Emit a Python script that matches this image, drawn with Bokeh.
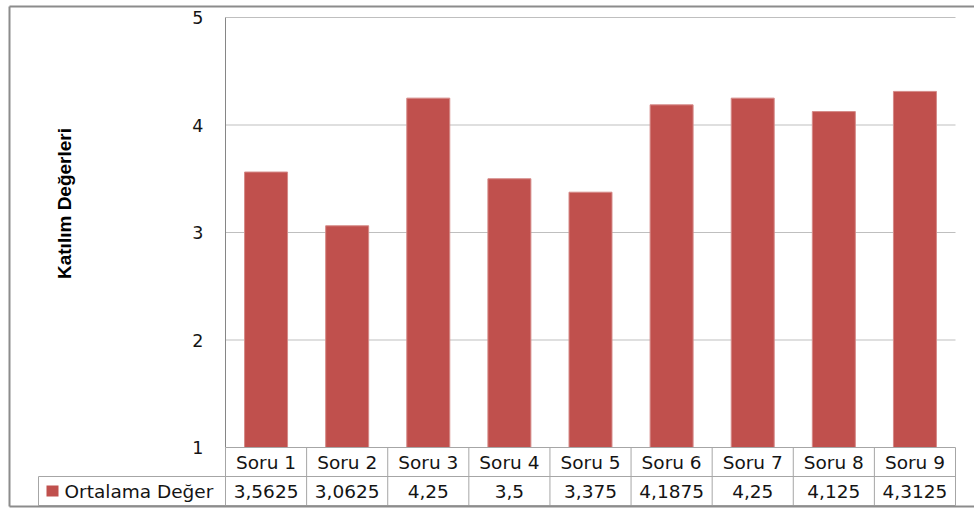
import numpy as np
from bokeh.plotting import figure
from bokeh.models import Range1d, ColumnDataSource
from bokeh.core.properties import value
from bokeh.embed import file_html
from bokeh.resources import INLINE

# ---- data ----
categories = ["Soru 1", "Soru 2", "Soru 3", "Soru 4", "Soru 5",
              "Soru 6", "Soru 7", "Soru 8", "Soru 9"]
values = [3.5625, 3.0625, 4.25, 3.5, 3.375, 4.1875, 4.25, 4.125, 4.3125]
series_name = "Ortalama Değer"
y_ticks = [1, 2, 3, 4, 5]
y_title = "Katılım Değerleri"
value_labels = [str(v).replace(".", ",") for v in values]

# ---- layout (pixels) ----
W, H = 974, 508
PL, PR, PT, PB = 225, 955, 17, 447       # plot area
YMIN, YMAX = 1, 5
ROW_H = 29
TBL_L = 38
BORDER_L, BORDER_T, BORDER_B = 9, 6, 506
n = len(categories)
colw = (PR - PL) / n
unit = (PB - PT) / (YMAX - YMIN)

def X(px):
    return (px - PL) / colw - 0.5

def Y(py):
    return YMAX - (py - PT) / unit

BAR_COLOR = "#C0504D"
GRID = "#BFBFBF"
AXIS = "#868686"
TBL = "#A6A6A6"
FONT = "DejaVu Sans"
TXT = "#141414"
FS = "18.5px"

p = figure(width=W, height=H, x_range=Range1d(X(0), X(W)), y_range=Range1d(Y(H), Y(0)),
           output_backend="svg", toolbar_location=None, min_border=0,
           x_axis_location=None, y_axis_location=None)
p.grid.visible = False
p.outline_line_color = None
p.background_fill_color = "white"
p.border_fill_color = "white"

idx = np.arange(n)

# gridlines
gy = [t for t in y_ticks if t > YMIN]
p.segment(x0=[X(PL)] * len(gy), x1=[X(PR)] * len(gy), y0=gy, y1=gy,
          line_color=GRID, line_width=1)

# bars
src = ColumnDataSource(dict(x=idx, top=values, cat=categories, lab=value_labels))
p.vbar(x="x", top="top", bottom=YMIN, width=0.53, source=src,
       fill_color=BAR_COLOR, line_color="#D58A88", line_width=1)

# y axis line
p.segment(x0=[X(PL)], x1=[X(PL)], y0=[YMIN], y1=[YMAX], line_color=AXIS, line_width=1)

# y tick labels
p.text(x=[X(203)] * len(y_ticks), y=y_ticks, text=[str(t) for t in y_ticks],
       text_align="right", text_baseline="middle", text_font=value(FONT),
       text_font_size="17.5px", text_color=TXT)

# y title
p.text(x=[X(64)], y=[Y(203)], text=[y_title], angle=np.pi / 2,
       text_align="center", text_baseline="middle",
       text_font=value("Liberation Sans"), text_font_style="bold",
       text_font_size="19px", text_color="black")

# data table
r1_top, r1_bot = PB, PB + ROW_H
r2_top, r2_bot = r1_bot, r1_bot + ROW_H
hx0 = [X(PL), X(TBL_L), X(TBL_L)]
hx1 = [X(PR)] * 3
hy = [Y(r1_top), Y(r2_top), Y(r2_bot)]
p.segment(x0=hx0, x1=hx1, y0=hy, y1=hy, line_color=TBL, line_width=1)
vx = [i - 0.5 for i in range(n + 1)]
p.segment(x0=vx, x1=vx, y0=[Y(r1_top)] * len(vx), y1=[Y(r2_bot)] * len(vx),
          line_color=TBL, line_width=1)
p.segment(x0=[X(TBL_L)], x1=[X(TBL_L)], y0=[Y(r2_top)], y1=[Y(r2_bot)],
          line_color=TBL, line_width=1)

p.text(x="x", y=Y((r1_top + r1_bot) / 2), text="cat", source=src,
       text_align="center", text_baseline="middle", text_font=value(FONT),
       text_font_size=FS, text_color=TXT)
p.text(x="x", y=Y((r2_top + r2_bot) / 2), text="lab", source=src,
       text_align="center", text_baseline="middle", text_font=value(FONT),
       text_font_size=FS, text_color=TXT)

# legend key + series name
p.quad(left=[X(46)], right=[X(58)], top=[Y(485)], bottom=[Y(496)],
       fill_color=BAR_COLOR, line_color=None)
p.text(x=[X(64)], y=[Y((r2_top + r2_bot) / 2)], text=[series_name],
       text_align="left", text_baseline="middle", text_font=value(FONT),
       text_font_size=FS, text_color=TXT)

# outer border
bx0 = [X(BORDER_L), X(BORDER_L), X(BORDER_L)]
bx1 = [X(W + 5), X(BORDER_L), X(W + 5)]
by0 = [Y(BORDER_T), Y(BORDER_T), Y(BORDER_B)]
by1 = [Y(BORDER_T), Y(BORDER_B), Y(BORDER_B)]
p.segment(x0=bx0, x1=bx1, y0=by0, y1=by1, line_color="#8C8C8C", line_width=2)

open("out.html", "w").write(file_html(p, INLINE))
